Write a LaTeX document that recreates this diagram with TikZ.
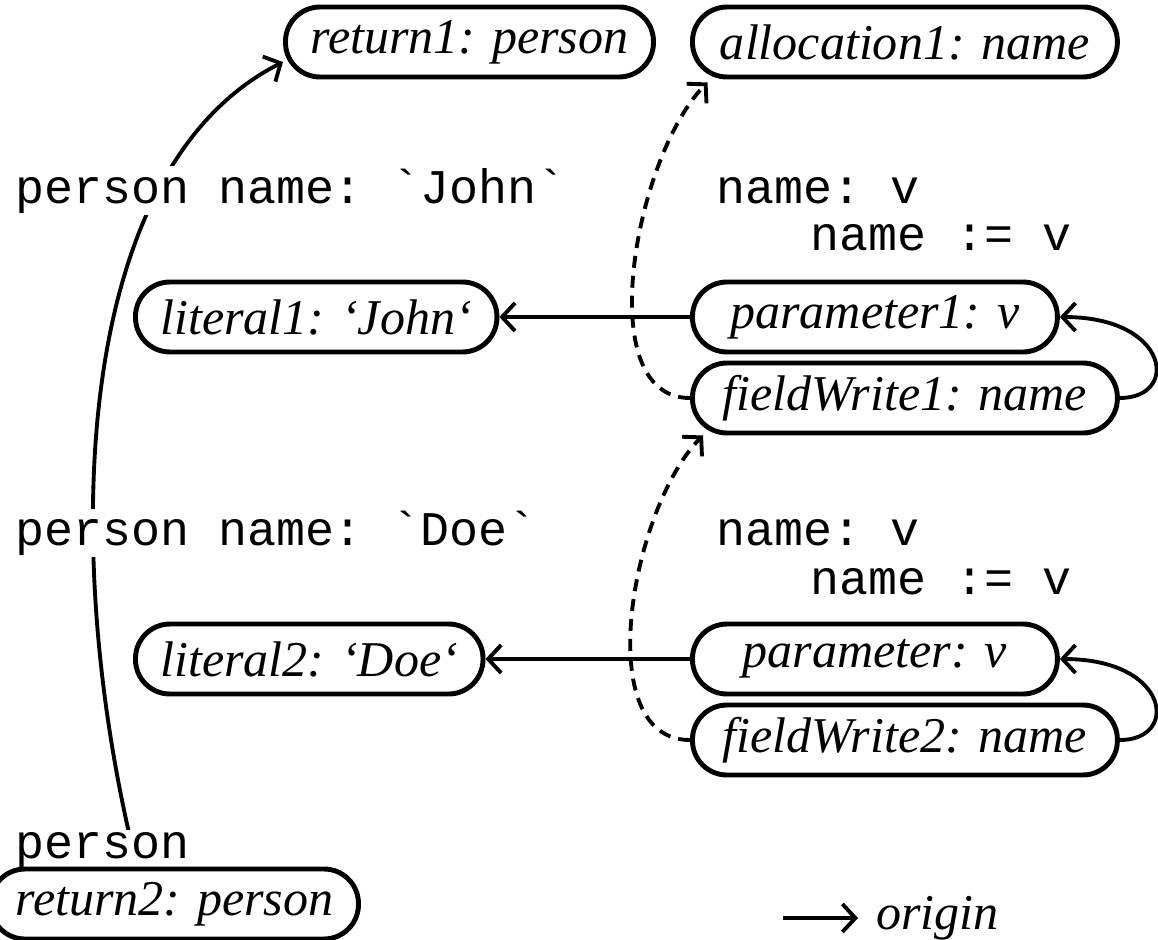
\documentclass[tikz,border=0pt]{standalone}
\usepackage{fontspec}
\setmainfont{Liberation Serif}
\setmonofont{Liberation Mono}
\usetikzlibrary{arrows.meta,backgrounds}

\begin{document}
\begin{tikzpicture}[x=0.02cm, y=-0.02cm,
    obj/.style={draw, line width=2.8pt, rounded corners=0.69cm, minimum height=1.4cm,
        inner xsep=0.5cm, font=\fontsize{28.5}{33}\selectfont\itshape},
    lbl/.style={anchor=base west, fill=white, inner sep=1pt, font=\fontsize{27.5}{33}\selectfont\ttfamily},
    flow/.style={line width=2.2pt, -{Straight Barb[length=0.26cm,width=0.56cm,line width=2.2pt]}},
    dep/.style={flow, dash pattern=on 0.24cm off 0.16cm}]
    \useasboundingbox (0,0) rectangle (1158,939);

    % source code
    \node[lbl] (srcJohn) at (13,203) {person name: `John`};
    \node[lbl] (srcSig1) at (714,203) {name: v};
    \node[lbl] (srcSet1) at (808,250) {name := v};
    \node[lbl] (srcDoe) at (13,545) {person name: `Doe`};
    \node[lbl] (srcSig2) at (714,545) {name: v};
    \node[lbl] (srcSet2) at (808,594) {name := v};
    \node[lbl] (srcPerson) at (13,858) {person};

    % objects
    \node[obj, anchor=west] (ret1) at (283,42) {return1: person};
    \node[obj, anchor=west, minimum width=8.5cm] (alloc1) at (690,42) {allocation1: name};
    \node[obj, anchor=west] (lit1) at (133,317) {literal1: ‘John‘};
    \node[obj, anchor=west, minimum width=7.3cm] (par1) at (690,317) {parameter1: v};
    \node[obj, anchor=west, minimum width=8.5cm] (fw1) at (690,398) {fieldWrite1: name};
    \node[obj, anchor=west] (lit2) at (133,659) {literal2: ‘Doe‘};
    \node[obj, anchor=west, minimum width=7.3cm] (par2) at (690,659) {parameter: v};
    \node[obj, anchor=west, minimum width=8.5cm] (fw2) at (690,740) {fieldWrite2: name};
    \node[obj, anchor=west] (ret2) at (-12,904) {return2: person};

    % origin edges
    \begin{pgfonlayer}{background}
    \draw[flow] (ret2.135) .. controls (60,560) and (70,170) .. ([yshift=-0.4cm]ret1.west);
    \draw[flow] (par1.west) -- (lit1.east);
    \draw[flow] (par2.west) -- (lit2.east);
    \draw[flow] (fw1.east) .. controls +(60,0) and +(110,0) .. (par1.east);
    \draw[flow] (fw2.east) .. controls +(60,0) and +(110,0) .. (par2.east);
    \draw[dep] (fw1.west) .. controls +(-100,0) and +(-72,73) .. ([xshift=0.35cm,yshift=-0.06cm]alloc1.south west);
    \draw[dep] (fw2.west) .. controls +(-100,0) and +(-72,73) .. ([xshift=0.26cm]fw1.south west);
    \end{pgfonlayer}

    % legend
    \coordinate (legtail) at (783,918);
    \node[anchor=west, inner xsep=0.36cm, font=\fontsize{28.5}{33}\selectfont\itshape] (legend) at (858,918) {origin};
    \draw[flow] (legtail) -- (legend.west);
\end{tikzpicture}
\end{document}
